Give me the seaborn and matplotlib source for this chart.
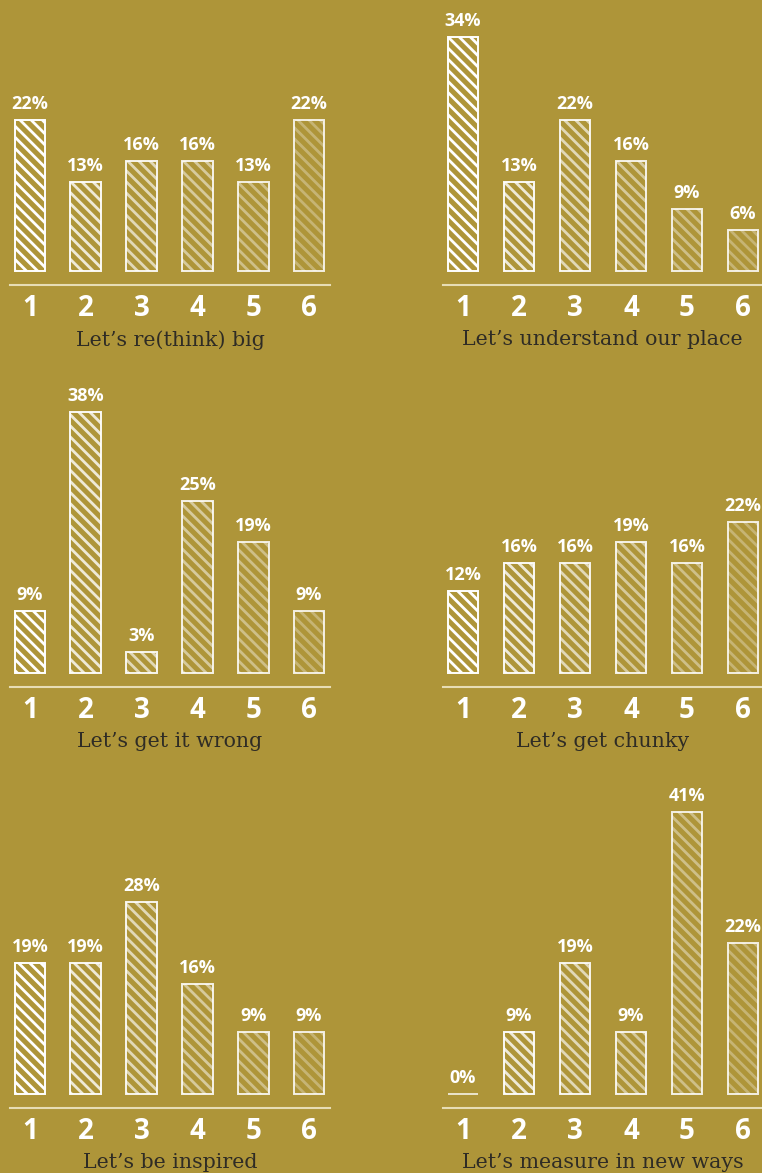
import matplotlib
matplotlib.use("Agg")
import matplotlib.pyplot as plt
import seaborn as sns
import pandas as pd

sns.set_theme(style="white")
plt.rcParams["hatch.linewidth"] = 2.0

# ---- data ----
categories = ["1", "2", "3", "4", "5", "6"]
titles = ["Let\u2019s re(think) big", "Let\u2019s understand our place",
          "Let\u2019s get it wrong", "Let\u2019s get chunky",
          "Let\u2019s be inspired", "Let\u2019s measure in new ways"]
rethink_big = [22, 13, 16, 16, 13, 22]
understand_place = [34, 13, 22, 16, 9, 6]
get_it_wrong = [9, 38, 3, 25, 19, 9]
get_chunky = [12, 16, 16, 19, 16, 22]
be_inspired = [19, 19, 28, 16, 9, 9]
measure_new = [0, 9, 19, 9, 41, 22]
series = [rethink_big, understand_place, get_it_wrong, get_chunky, be_inspired, measure_new]

# ---- style ----
BG = "#ae9539"
TITLE_C = "#2f2c25"
stripe_alpha = [1.0, 0.8, 0.64, 0.5, 0.4, 0.3]
outline_alpha = [1.0, 0.95, 0.9, 0.88, 0.86, 0.85]

W, H = 762, 1173
fig = plt.figure(figsize=(W / 100, H / 100), dpi=100, facecolor=BG)

px_per = 6.87          # pixels per percentage point
base_off = 14          # pixels between bar base and axis line
axis_rows = [285, 687, 1108]
top_rows = [0, 360, 765]
cols = [(10, 330, 30, 55.8), (443, 762, 463, 56.0)]

for i, vals in enumerate(series):
    r, c = divmod(i, 2)
    x0, x1, xc0, sp = cols[c]
    ay = axis_rows[r]
    ty = top_rows[r]
    hpx = ay - ty
    ax = fig.add_axes([x0 / W, 1 - ay / H, (x1 - x0) / W, hpx / H])
    ax.set_facecolor("none")
    df = pd.DataFrame({"cat": categories, "val": vals})
    sns.barplot(data=df, x="cat", y="val", ax=ax, width=0.55, color="white",
                errorbar=None)
    n0 = len(ax.patches)
    for j, p in enumerate(ax.patches[:n0]):
        p.set_facecolor("none")
        p.set_edgecolor((1, 1, 1, stripe_alpha[j]))
        p.set_hatch("\\\\\\")
        p.set_linewidth(0)
    sns.barplot(data=df, x="cat", y="val", ax=ax, width=0.55, fill=False,
                errorbar=None, color="white", linewidth=1.4)
    for j, p in enumerate(ax.patches[n0:]):
        p.set_edgecolor((1, 1, 1, outline_alpha[j] if vals[j] > 0 else 0.75))
        p.set_facecolor("none")
    for j, v in enumerate(vals):
        ax.annotate(f"{v}%", (j, v), xytext=(0, 7), textcoords="offset pixels",
                    ha="center", va="bottom", color="white", fontsize=13,
                    fontweight="bold", family="Open Sans")
    ax.set_xlim((x0 - xc0) / sp, (x1 - xc0) / sp)
    ax.set_ylim(-base_off / px_per, (hpx - base_off) / px_per)
    for s in ["top", "left", "right"]:
        ax.spines[s].set_visible(False)
    ax.spines["bottom"].set_color((0.95, 0.92, 0.8, 0.85))
    ax.spines["bottom"].set_linewidth(1.5)
    ax.set_yticks([])
    ax.tick_params(axis="x", length=0, pad=6.5)
    for lab in ax.get_xticklabels():
        lab.set_fontsize(20)
        lab.set_fontweight("bold")
        lab.set_color("white")
        lab.set_family("Open Sans")
    ax.set_ylabel("")
    ax.set_xlabel(titles[i], fontsize=14.8, color=TITLE_C, family="DejaVu Serif",
                  labelpad=5)

fig.savefig("out.png", dpi=100, facecolor=BG)
